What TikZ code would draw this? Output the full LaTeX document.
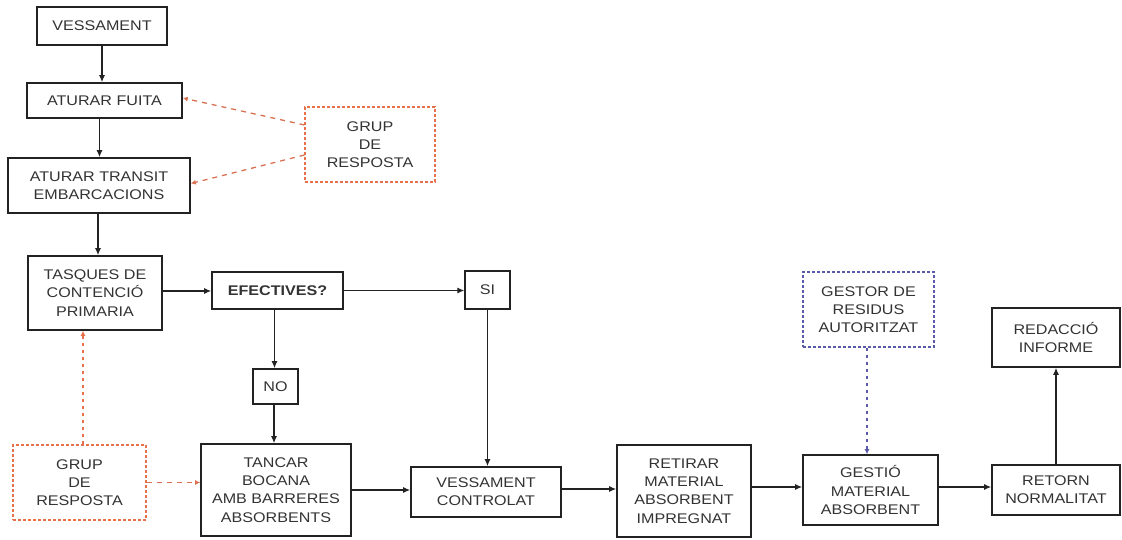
\documentclass[tikz,border=0pt]{standalone}
\usepackage{fontspec}
\setmainfont[FakeStretch=1.15]{Liberation Sans}
\usetikzlibrary{arrows.meta,calc}
\definecolor{txtc}{HTML}{333333}
\definecolor{boxc}{HTML}{222222}
\definecolor{redc}{HTML}{E8704A}
\definecolor{bluec}{HTML}{5A5AA8}
\begin{document}
\begin{tikzpicture}[x=1pt,y=-1pt,
  every node/.style={font=\fontsize{14}{18.3}\selectfont, text=txtc, align=center, inner sep=0pt},
  pbox/.style={draw=boxc, line width=1.6pt, rectangle},
  grupbox/.style={draw=redc, line width=1.1pt, dash pattern=on 3pt off 2pt, rectangle},
  gestbox/.style={draw=bluec, line width=1.1pt, dash pattern=on 3pt off 2pt, rectangle},
  flow/.style={draw=boxc, line width=1.2pt, -{Latex[length=7pt,width=6pt]}},
  redflow/.style={draw=redc!85!gray, line width=1.3pt, dash pattern=on 5pt off 5pt, -{Latex[length=5pt,width=5pt]}},
  reddot/.style={draw=redc, line width=1.3pt, dash pattern=on 3pt off 4pt, -{Latex[length=5pt,width=5pt]}},
  bluedot/.style={draw=bluec, line width=1.3pt, dash pattern=on 3pt off 4pt, -{Latex[length=5pt,width=5pt]}},
]
\useasboundingbox (0,0) rectangle (1122,540);
\fill[white] (0,0) rectangle (1122,540);

\node[pbox, minimum width=130pt, minimum height=38pt] (ves) at (102,26) {VESSAMENT};
\node[pbox, minimum width=155pt, minimum height=35pt] (fuita) at (104.5,100.5) {ATURAR FUITA};
\node[pbox, minimum width=182pt, minimum height=55pt] (transit) at (99,185.5) {ATURAR TRANSIT\\EMBARCACIONS};
\node[grupbox, minimum width=130pt, minimum height=75pt] (grup1) at (370,144.5) {GRUP\\DE\\RESPOSTA};
\node[pbox, minimum width=134pt, minimum height=74pt] (tasques) at (95,293) {TASQUES DE\\CONTENCIÓ\\PRIMARIA};
\node[pbox, minimum width=131pt, minimum height=37pt, font=\fontsize{14}{18.3}\selectfont\bfseries] (efect) at (277.5,290.5) {EFECTIVES?};
\node[pbox, line width=1.3pt, minimum width=45pt, minimum height=38pt] (si) at (487.5,290) {SI};
\node[pbox, minimum width=45pt, minimum height=35pt] (no) at (275.5,386.5) {NO};
\node[grupbox, minimum width=133pt, minimum height=75pt] (grup2) at (79.5,482.5) {GRUP\\DE\\RESPOSTA};
\node[pbox, minimum width=150pt, minimum height=92pt] (tancar) at (276,490) {TANCAR\\BOCANA\\AMB BARRERES\\ABSORBENTS};
\node[pbox, minimum width=150pt, minimum height=50pt] (vc) at (486,492) {VESSAMENT\\CONTROLAT};
\node[pbox, minimum width=134pt, minimum height=92pt] (retirar) at (684,491) {RETIRAR\\MATERIAL\\ABSORBENT\\IMPREGNAT};
\node[gestbox, minimum width=131pt, minimum height=75pt] (gestor) at (868.5,309.5) {GESTOR DE\\RESIDUS\\AUTORITZAT};
\node[pbox, minimum width=135pt, minimum height=70pt] (gestio) at (870.5,490) {GESTIÓ\\MATERIAL\\ABSORBENT};
\node[pbox, minimum width=128pt, minimum height=59pt] (redaccio) at (1056,337.5) {REDACCIÓ\\INFORME};
\node[pbox, minimum width=128pt, minimum height=50pt] (retorn) at (1056,490) {RETORN\\NORMALITAT};

% main flow
\draw[flow] (ves.south) -- (ves.south |- fuita.north);
\draw[flow] ([xshift=-5pt]fuita.south) -- ([xshift=-5pt]fuita.south |- transit.north);
\draw[flow] ([xshift=-1pt]transit.south) -- ([xshift=-1pt]transit.south |- tasques.north);
\draw[flow] ([yshift=2pt]tasques.east) -- ([yshift=2pt]tasques.east -| efect.west);
\draw[flow] (efect.east) -- (efect.east -| si.west);
\draw[flow] ([xshift=-3pt]efect.south) -- ([xshift=-3pt]efect.south |- no.north);
\draw[flow] ([xshift=-1.5pt]no.south) -- ([xshift=-1.5pt]no.south |- tancar.north);
\draw[flow] (si.south) -- (si.south |- vc.north);
\draw[flow] (tancar.east) -- (tancar.east -| vc.west);
\draw[flow] ([yshift=3pt]vc.east) -- ([yshift=3pt]vc.east -| retirar.west);
\draw[flow] ([yshift=4pt]retirar.east) -- ([yshift=4pt]retirar.east -| gestio.west);
\draw[flow] ([yshift=3pt]gestio.east) -- ([yshift=3pt]gestio.east -| retorn.west);
\draw[flow] (retorn.north) -- (retorn.north |- redaccio.south);

% support groups
\draw[redflow] ([yshift=19.5pt]grup1.west) -- ([yshift=2.5pt]fuita.east);
\draw[redflow] ([yshift=-10.5pt]grup1.west) -- ([yshift=2pt]transit.east);
\draw[reddot] ([xshift=3.5pt]grup2.north) -- ([xshift=3.5pt]grup2.north |- tasques.south);
\draw[redflow] (grup2.east) -- (grup2.east -| tancar.west);
\draw[bluedot] ([xshift=-1.5pt]gestor.south) -- ([xshift=-1.5pt]gestor.south |- gestio.north);
\end{tikzpicture}
\end{document}
